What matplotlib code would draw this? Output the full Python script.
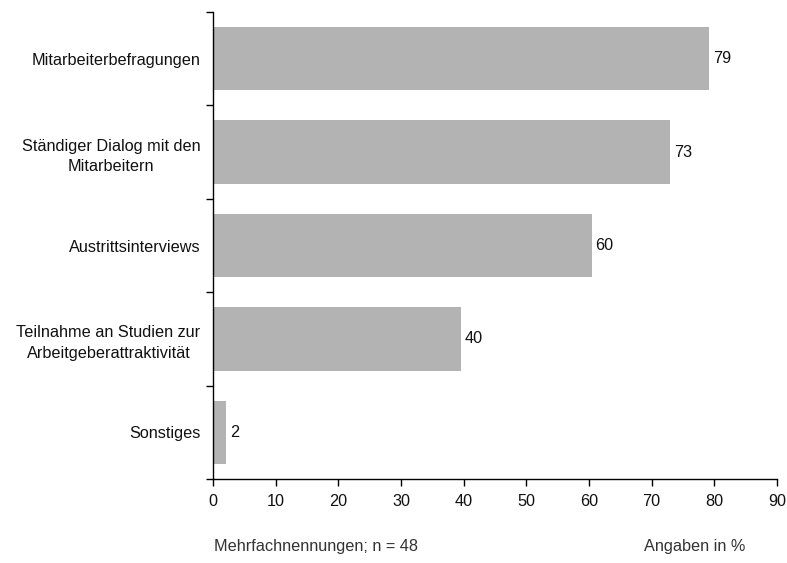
import numpy as np
import matplotlib.pyplot as plt

plt.rcParams["font.family"] = ["Liberation Sans", "DejaVu Sans"]

# survey answers (multiple answers allowed), n = 48
categories = [
    "Mitarbeiterbefragungen",
    "Ständiger Dialog mit den\nMitarbeitern",
    "Austrittsinterviews",
    "Teilnahme an Studien zur\nArbeitgeberattraktivität",
    "Sonstiges",
]
counts = [38, 35, 29, 19, 1]
n_total = 48
percent = [100 * c / n_total for c in counts]
xticks = [0, 10, 20, 30, 40, 50, 60, 70, 80, 90]

FS = 11.7
TXT = "#111111"

fig = plt.figure(figsize=(7.87, 5.63), dpi=100)
ax = fig.add_axes([213 / 787, 1 - 479 / 563, 564 / 787, 467 / 563])

y = np.arange(len(categories))
ax.barh(y, percent, height=0.68, color="#b3b3b3", edgecolor="none")

for yi, v in zip(y, percent):
    ax.text(v + 0.6, yi, f"{v:.0f}", va="center", ha="left", fontsize=FS, color=TXT)

ax.set_ylim(len(categories) - 0.5, -0.5)
ax.set_xlim(0, 90)
ax.set_xticks(xticks)
ax.set_xticklabels([str(t) for t in xticks], fontsize=FS, color=TXT)

# category labels at bar centres, small ticks on the boundaries
ax.set_yticks(y)
ax.set_yticklabels(categories, fontsize=FS, color=TXT)
for lab in ax.get_yticklabels():
    lab.set_multialignment("center")
    lab.set_linespacing(1.45)
ax.set_yticks(np.arange(len(categories) + 1) - 0.5, minor=True)
ax.tick_params(axis="y", which="major", length=0, pad=9)
ax.tick_params(axis="y", which="minor", length=5, width=1, direction="out")
ax.tick_params(axis="x", length=5, width=1, direction="out", pad=6)

ax.spines["top"].set_visible(False)
ax.spines["right"].set_visible(False)
for s in ("left", "bottom"):
    ax.spines[s].set_linewidth(1)
    ax.spines[s].set_color("black")

fig.text(214 / 787, 1 - 547 / 563, "Mehrfachnennungen; n = 48", ha="left", va="center",
         fontsize=FS, color="#333333")
fig.text(745 / 787, 1 - 547 / 563, "Angaben in %", ha="right", va="center",
         fontsize=FS, color="#333333")

fig.savefig("out.png", dpi=100)
